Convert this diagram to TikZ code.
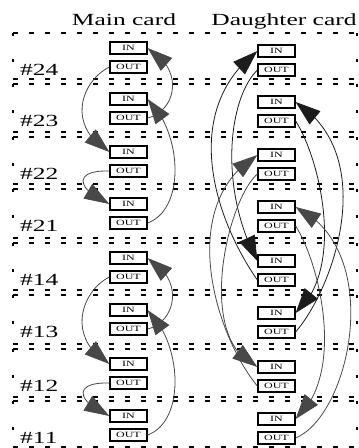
\documentclass[tikz,border=0pt]{standalone}
\usepackage{fontspec}
\setmainfont{Liberation Serif}
\usetikzlibrary{arrows.meta,bending}
\definecolor{mgray}{RGB}{72,72,72}
\definecolor{dblack}{RGB}{28,28,28}
\newcommand{\wide}[1]{\scalebox{1.5}[1]{#1}}
\begin{document}
\begin{tikzpicture}[x=1pt,y=-1pt,
  hdash/.style={line width=1.6pt, dash pattern=on 5pt off 11pt},
  vdash/.style={line width=1.4pt, dash pattern=on 3pt off 23pt},
  port/.style={draw, line width=1.3pt, fill=white, minimum width=37pt, minimum height=12pt, inner sep=0pt, font=\fontsize{8}{8}\selectfont},
  lbl/.style={inner sep=0pt, font=\fontsize{17}{17}\selectfont},
  conn/.style={line width=0.8pt, -{Triangle[length=25pt,width=17pt]}},
  gconn/.style={conn, draw=mgray},
  bconn/.style={conn, draw=dblack}]
\useasboundingbox (0,0) rectangle (359,448);
% titles
\node[lbl, anchor=base] (tmain) at (124,25) {\wide{Main card}};
\node[lbl, anchor=base] (tdau) at (284,25) {\wide{Daughter card}};
% slots
\foreach \r/\t/\b in {24/33/79, 23/84/132, 22/137/184, 21/189/238, 14/243/290, 13/295/344, 12/349/397, 11/401/447}{
  \draw[hdash] (13,\t) -- (357,\t);
  \draw[hdash] (13,\b) -- (357,\b);
  \draw[vdash] (13,\t) -- (13,\b);
  \draw[vdash] (357,\t) -- (357,\b);
  \node[lbl, anchor=base west] (lab\r) at (20,{\t+42}) {\wide{\#\r}};
  \node[port] (mi\r) at (128.5,{\t+15}) {\wide{IN}};
  \node[port] (mo\r) at (128.5,{\t+34}) {\wide{OUT}};
  \node[port] (di\r) at (276.5,{\t+18}) {\wide{IN}};
  \node[port] (do\r) at (276.5,{\t+37}) {\wide{OUT}};
}
% main card rings
\foreach \a/\b/\c/\d in {24/23/22/21, 14/13/12/11}{
  \draw[gconn] (mo\a.west) .. controls +(-28,14) and +(-44,-26) .. (mi\c.west);
  \draw[gconn] (mo\b.east) .. controls +(28,-7) and +(38,22) .. (mi\a.east);
  \draw[gconn] (mo\d.east) .. controls +(38,-14) and +(35,34) .. (mi\b.east);
  \draw[gconn] (mo\c.west) .. controls +(-38,-1) and +(-32,-14) .. (mi\d.west);
}
% daughter card links, left side
\draw[bconn] (do14.west) .. controls +(-45,-65) and +(-76,59) .. (di24.west);
\draw[bconn] (do24.west) .. controls +(-30,30) and +(-38,-71) .. (di14.west);
\draw[gconn] (do22.west) .. controls +(-30,26) and +(-63,-27) .. (di12.west);
\draw[gconn] (do12.west) .. controls +(-42,-51) and +(-82,50) .. (di22.west);
% daughter card links, right side
\draw[bconn] (do23.east) .. controls +(25,39) and +(50,-43) .. (di13.east);
\draw[gconn] (do21.east) .. controls +(25,39) and +(50,-43) .. (di11.east);
\draw[bconn] (do13.east) .. controls +(40,-47) and +(83,53) .. (di23.east);
\draw[gconn] (do11.east) .. controls +(55,-23) and +(90,43) .. (di21.east);
\end{tikzpicture}
\end{document}
